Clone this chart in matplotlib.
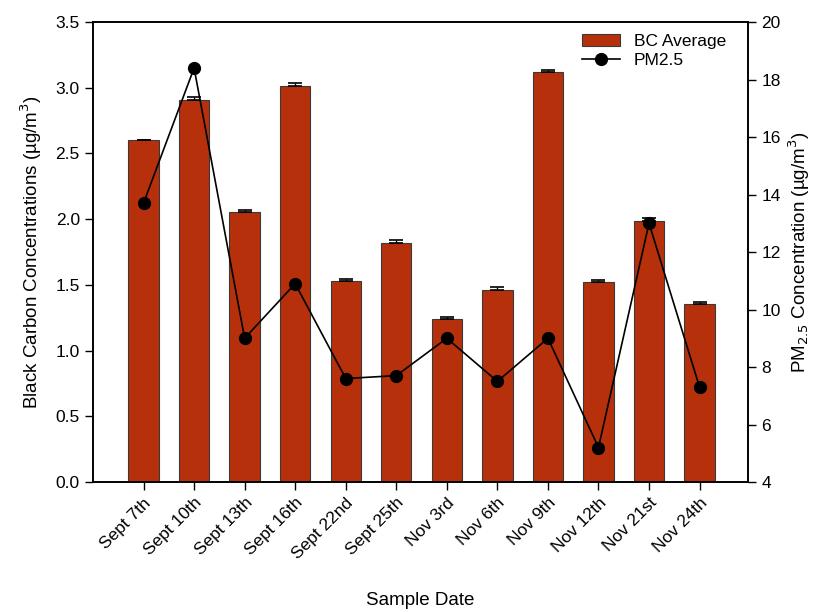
import numpy as np
import matplotlib
matplotlib.use("Agg")
import matplotlib.pyplot as plt

plt.rcParams["font.family"] = ["Liberation Sans", "DejaVu Sans"]

# data
dates = ["Sept 7th", "Sept 10th", "Sept 13th", "Sept 16th", "Sept 22nd", "Sept 25th",
         "Nov 3rd", "Nov 6th", "Nov 9th", "Nov 12th", "Nov 21st", "Nov 24th"]
bc_avg = [2.60, 2.91, 2.055, 3.01, 1.527, 1.816, 1.238, 1.461, 3.118, 1.52, 1.989, 1.355]
bc_err = [0.005, 0.02, 0.015, 0.025, 0.018, 0.025, 0.018, 0.02, 0.015, 0.015, 0.02, 0.012]
pm25 = [13.7, 18.4, 9.0, 10.9, 7.6, 7.7, 9.0, 7.5, 9.0, 5.2, 13.0, 7.3]

x = np.arange(len(dates))

fig = plt.figure(figsize=(8.34, 6.12), dpi=100)
ax = fig.add_axes([0.1115, 0.2124, 0.7855, 0.7516])
ax2 = ax.twinx()

bars = ax.bar(x, bc_avg, width=0.6, color="#b5300b", edgecolor="#3a3a3a", linewidth=0.8,
              label="BC Average")
ax.errorbar(x, bc_avg, yerr=[np.zeros(len(bc_err)), bc_err], fmt="none", ecolor="black",
            elinewidth=1.0, capsize=5, capthick=1.2)

line, = ax2.plot(x, pm25, color="black", linewidth=1.2, marker="o", markersize=8.5,
                 label="PM2.5")

ax.set_xlim(-1.0, 11.96)
ax.set_ylim(0, 3.5)
ax.set_yticks(np.arange(0, 3.51, 0.5))
ax.set_yticklabels([f"{v:.1f}" for v in np.arange(0, 3.51, 0.5)])
ax2.set_ylim(4, 20)
ax2.set_yticks(np.arange(4, 21, 2))

ax.set_xticks(x)
ax.set_xticklabels(dates, rotation=45, ha="right", rotation_mode="anchor")

for a in (ax, ax2):
    a.tick_params(direction="out", length=6, width=1, labelsize=12.5)
    for s in a.spines.values():
        s.set_linewidth(1.2)

ax.set_ylabel("Black Carbon Concentrations (\u00b5g/m$^3$)", fontsize=13.5, labelpad=8)
ax2.set_ylabel("PM$_{2.5}$ Concentration (\u00b5g/m$^3$)", fontsize=13.5, labelpad=4)
ax.set_xlabel("Sample Date", fontsize=13.5, labelpad=22)

ax2.legend([bars, line], ["BC Average", "PM2.5"], loc="upper right", frameon=False,
           fontsize=12.5, handlelength=2.2, borderaxespad=0.3, labelspacing=0.2,
           bbox_to_anchor=(0.985, 1.0))

plt.savefig("out.png", dpi=100)
